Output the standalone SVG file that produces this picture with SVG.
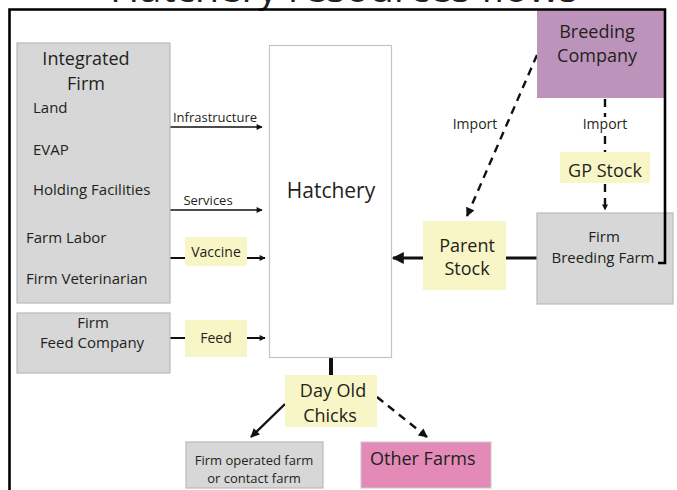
<svg xmlns="http://www.w3.org/2000/svg" width="677" height="490" viewBox="0 0 677 490">
  <style>
    text { font-family: "Open Sans", "Noto Sans", "Liberation Sans", sans-serif; fill: #231f20; }
    .mid { text-anchor: middle; }
    .gray { fill: #d6d7d6; stroke: #b9b9b9; stroke-width: 1.2; }
    .note { fill: #f8f6c6; }
    .hatch { fill: #ffffff; stroke: #c4c4c4; stroke-width: 1.2; }
    .line { fill: none; stroke: #111111; }
    .dash { stroke-dasharray: 8 6; }
    .frame { fill: none; stroke: #000000; stroke-width: 2.6; }
  </style>
  <defs>
    <marker id="ahSmall" viewBox="0 0 10 10" refX="9" refY="5" markerWidth="7" markerHeight="6" markerUnits="userSpaceOnUse" orient="auto">
      <path d="M0,0 L10,5 L0,10 z" fill="#111111"/>
    </marker>
    <marker id="ahBig" viewBox="0 0 10 10" refX="9" refY="5" markerWidth="13" markerHeight="12" markerUnits="userSpaceOnUse" orient="auto">
      <path d="M0,0 L10,5 L0,10 z" fill="#111111"/>
    </marker>
    <marker id="ahMid" viewBox="0 0 10 10" refX="9" refY="5" markerWidth="10" markerHeight="9" markerUnits="userSpaceOnUse" orient="auto">
      <path d="M0,0 L10,5 L0,10 z" fill="#111111"/>
    </marker>
  </defs>

  <!-- title, running off the top edge -->
  <text x="110" y="2" font-size="36" textLength="468" lengthAdjust="spacingAndGlyphs">Hatchery resources flows</text>

  <!-- connectors -->
  <g id="connectors">
    <line class="line" x1="170" y1="127" x2="262" y2="127" stroke-width="1.6" marker-end="url(#ahSmall)"/>
    <line class="line" x1="170" y1="210" x2="262" y2="210" stroke-width="1.6" marker-end="url(#ahSmall)"/>
    <line class="line" x1="170" y1="258" x2="265" y2="258" stroke-width="2" marker-end="url(#ahSmall)"/>
    <line class="line" x1="170" y1="338" x2="265" y2="338" stroke-width="2" marker-end="url(#ahSmall)"/>
    <line class="line" x1="537" y1="258" x2="393" y2="258" stroke-width="3" marker-end="url(#ahBig)"/>
    <line class="line" x1="331" y1="357" x2="331" y2="376" stroke-width="4"/>
    <line class="line" x1="285" y1="404" x2="251" y2="437" stroke-width="2.4" marker-end="url(#ahMid)"/>
    <line class="line dash" x1="377" y1="397" x2="427" y2="437" stroke-width="2.4" marker-end="url(#ahMid)"/>
    <line class="line dash" x1="537" y1="55" x2="467" y2="216" stroke-width="2.4" marker-end="url(#ahMid)"/>
    <line class="line dash" x1="605" y1="99" x2="605" y2="117" stroke-width="2.4"/>
    <line class="line dash" x1="605" y1="136" x2="605" y2="152" stroke-width="2.4"/>
    <line class="line dash" x1="605" y1="184" x2="605" y2="210" stroke-width="2.4" marker-end="url(#ahSmall)"/>
    <text x="215" y="122" font-size="13" class="mid">Infrastructure</text>
    <text x="208" y="205" font-size="13" class="mid">Services</text>
    <text x="475" y="129" font-size="14" class="mid">Import</text>
    <text x="605" y="129" font-size="14" class="mid">Import</text>
  </g>

  <g id="integrated-firm">
    <rect class="gray" x="17" y="43" width="153" height="260"/>
    <text x="86" y="65" font-size="18" class="mid">Integrated</text>
    <text x="86" y="90" font-size="18" class="mid">Firm</text>
    <text x="33" y="113" font-size="15">Land</text>
    <text x="33" y="155" font-size="15">EVAP</text>
    <text x="33" y="195" font-size="15">Holding Facilities</text>
    <text x="26" y="243" font-size="15">Farm Labor</text>
    <text x="26" y="284" font-size="15">Firm Veterinarian</text>
  </g>

  <g id="feed-company">
    <rect class="gray" x="17" y="313" width="153" height="60"/>
    <text x="93" y="328" font-size="15" class="mid">Firm</text>
    <text x="92" y="348" font-size="15" class="mid">Feed Company</text>
  </g>

  <g id="vaccine">
    <rect class="note" x="185" y="237" width="62" height="29"/>
    <text x="216" y="257" font-size="14" class="mid">Vaccine</text>
  </g>

  <g id="feed">
    <rect class="note" x="185" y="320" width="62" height="37"/>
    <text x="216" y="343" font-size="14" class="mid">Feed</text>
  </g>

  <g id="hatchery">
    <rect class="hatch" x="269.5" y="45.5" width="122" height="312"/>
    <text x="331" y="198" font-size="21" class="mid">Hatchery</text>
  </g>

  <g id="breeding-company">
    <rect x="537" y="9" width="128" height="89" fill="#bc94bb"/>
    <text x="597" y="38" font-size="18" class="mid">Breeding</text>
    <text x="597" y="62" font-size="18" class="mid">Company</text>
  </g>

  <g id="gp-stock">
    <rect class="note" x="560" y="152" width="90" height="31"/>
    <text x="605" y="177" font-size="18" class="mid">GP Stock</text>
  </g>

  <g id="breeding-farm">
    <rect class="gray" x="537" y="213" width="136" height="91"/>
    <text x="604" y="242" font-size="15" class="mid">Firm</text>
    <text x="603" y="263" font-size="15" class="mid">Breeding Farm</text>
  </g>

  <g id="parent-stock">
    <rect class="note" x="423" y="221" width="83" height="69"/>
    <text x="467" y="252" font-size="18" class="mid">Parent</text>
    <text x="467" y="275" font-size="18" class="mid">Stock</text>
  </g>

  <g id="day-old-chicks">
    <rect class="note" x="285" y="375" width="92" height="52"/>
    <text x="333" y="397" font-size="18" class="mid">Day Old</text>
    <text x="330" y="422" font-size="18" class="mid">Chicks</text>
  </g>

  <g id="firm-farm">
    <rect class="gray" x="186" y="442" width="137" height="46"/>
    <text x="254" y="465" font-size="13" class="mid">Firm operated farm</text>
    <text x="254" y="483" font-size="13" class="mid">or contact farm</text>
  </g>

  <g id="other-farms">
    <rect x="361" y="442" width="130" height="46" fill="#e48ab7" stroke="#c9c9c9" stroke-width="1"/>
    <text x="370" y="465" font-size="18">Other Farms</text>
  </g>

  <!-- slide border -->
  <path class="frame" d="M9.5,490 V9.5 H665 V263 H658"/>
</svg>
